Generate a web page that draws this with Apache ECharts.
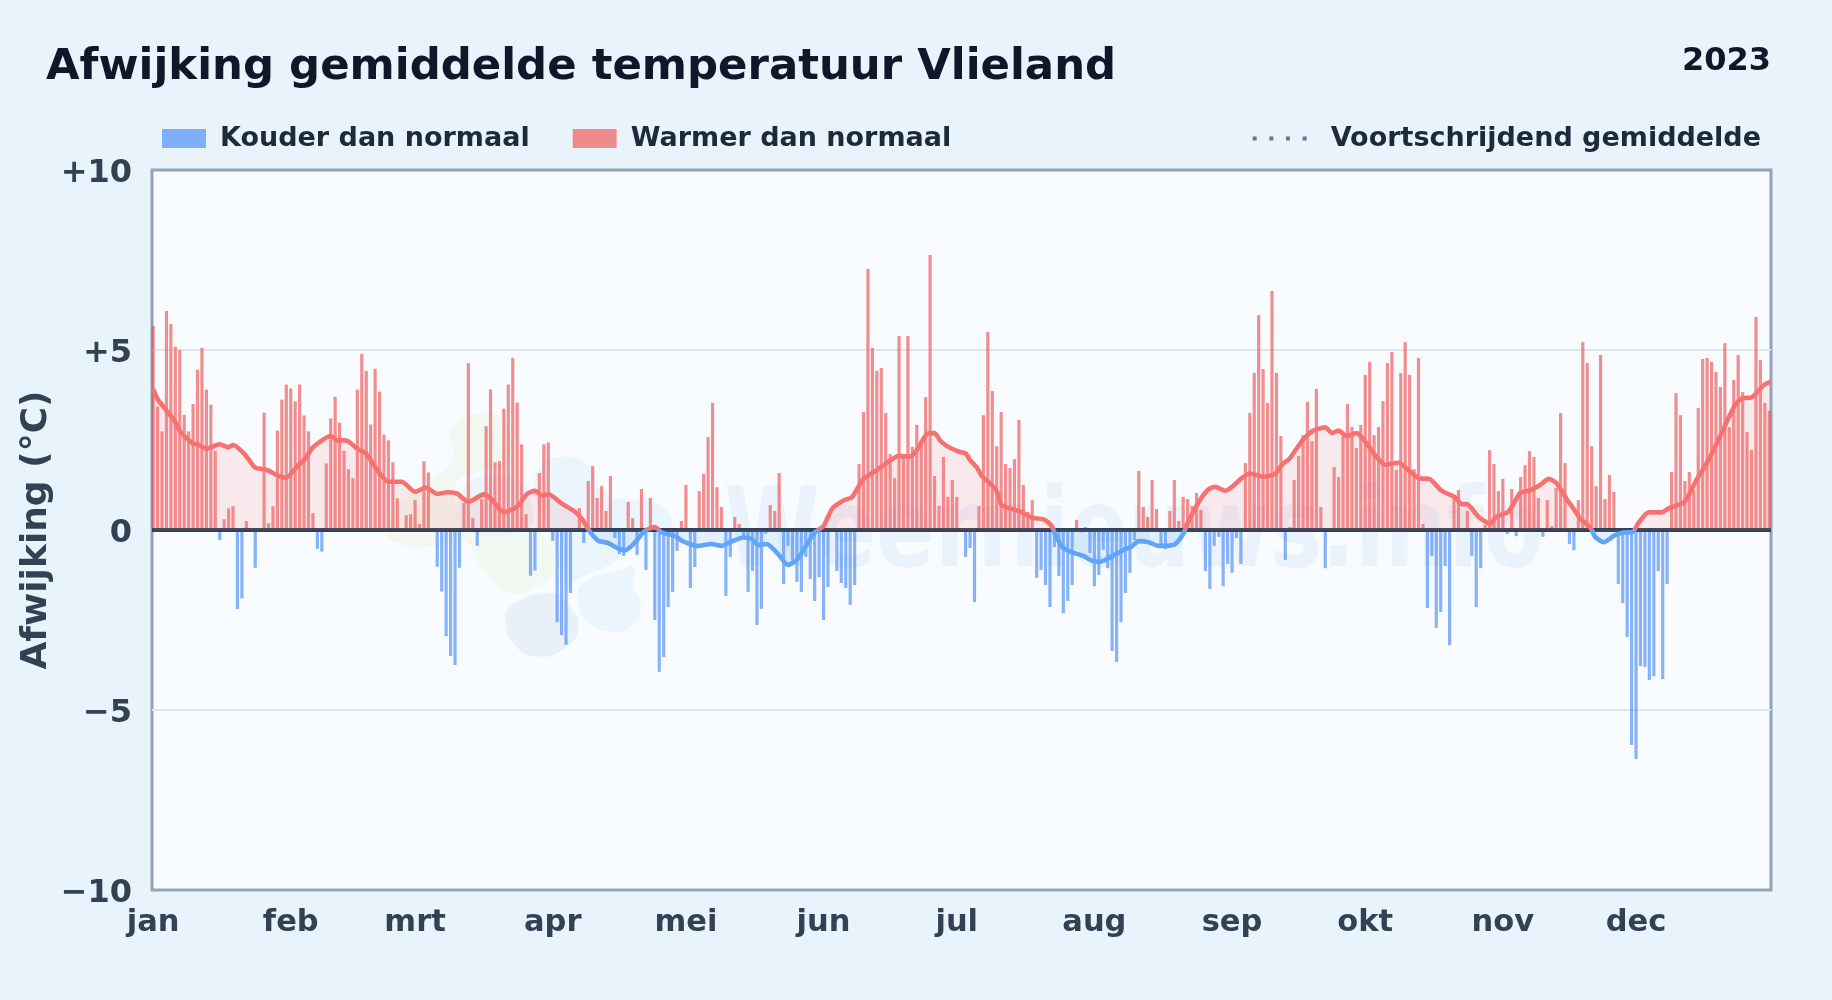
<!DOCTYPE html>
<html><head><meta charset="utf-8">
<style>html,body{margin:0;padding:0;background:#e8f3fc}#c{width:1832px;height:1000px}</style>
<script src="https://cdn.jsdelivr.net/npm/echarts@6/dist/echarts.min.js"></script>
</head><body><div id="c"></div>
<script>
const monthLabels=['jan','feb','mrt','apr','mei','jun','jul','aug','sep','okt','nov','dec'];
const monthStarts=[0,31,59,90,120,151,181,212,243,273,304,334];
const dayValues=[
5.67,3.43,2.74,6.08,5.72,5.09,5.0,3.2,2.74,3.5,
4.45,5.06,3.9,3.48,2.2,-0.28,0.3,0.6,0.66,-2.2,
-1.9,0.25,0,-1.05,0.05,3.26,0.19,0.66,2.76,3.62,
4.04,3.93,3.57,4.04,3.18,2.74,0.47,-0.52,-0.6,1.85,
3.1,3.7,2.98,2.2,1.69,1.44,3.9,4.89,4.42,2.93,
4.48,3.84,2.65,2.49,1.88,0.88,0,0.41,0.44,0.83,
0.17,1.91,1.6,0,-1.02,-1.71,-2.95,-3.5,-3.75,-1.05,
0.75,4.64,0.33,-0.44,0.86,2.88,3.9,1.88,1.91,3.37,
4.04,4.78,3.54,2.38,0.44,-1.27,-1.13,1.58,2.38,2.43,
-0.3,-2.56,-2.92,-3.19,-1.75,0,0.61,-0.36,1.36,1.78,
0.89,1.22,0.53,1.5,-0.22,-0.67,-0.72,0.78,0.33,-0.69,
1.14,-1.11,0.89,-2.5,-3.94,-3.53,-2.14,-1.72,-0.58,0.25,
1.25,-1.61,-1.03,1.08,1.56,2.58,3.53,1.19,0.64,-1.83,
-0.75,0.36,0.17,-0.2,-1.72,-1.14,-2.64,-2.19,-0.1,0.69,
0.53,1.58,-1.5,-0.44,-0.85,-1.44,-1.72,-0.75,-1.36,-1.97,
-1.31,-2.5,-1.58,0,-1.14,-1.47,-1.61,-2.08,-1.53,1.83,
3.28,7.25,5.06,4.42,4.5,3.25,2.11,1.44,5.39,2.0,
5.39,2.31,2.92,2.5,3.69,7.64,1.5,0.67,2.03,0.92,
1.39,0.92,0,-0.75,-0.5,-2.0,0.67,3.19,5.5,3.86,
2.33,3.28,1.83,1.72,1.97,3.06,1.25,0.5,0.83,-1.33,
-1.11,-1.53,-2.14,-0.47,-1.28,-2.31,-1.97,-1.53,0.28,-0.07,
0.08,-0.64,-1.56,-1.25,-0.55,-1.06,-3.36,-3.67,-2.56,-1.75,
-1.19,-0.28,1.64,0.64,0.36,1.39,0.58,-0.42,-0.53,0.53,
1.39,0.25,0.92,0.86,0.67,1.03,0.56,-1.14,-1.64,-0.44,
-0.19,-1.56,-0.94,-1.19,-0.22,-0.94,1.86,3.25,4.36,5.97,
4.47,3.53,6.64,4.36,2.61,-0.83,0.08,1.39,2.06,2.64,
3.56,2.47,3.92,0.64,-1.06,0,1.75,1.47,2.61,3.5,
2.86,2.28,2.92,4.31,4.67,2.64,2.86,3.58,4.64,4.94,
1.67,4.36,5.22,4.31,1.69,4.78,0.17,-2.17,-0.72,-2.72,
-2.28,-1.0,-3.2,0.94,1.11,0,0.53,-0.72,-2.14,-1.06,
0.14,2.22,1.83,1.08,1.42,-0.11,1.14,-0.17,1.47,1.8,
2.19,2.03,0.89,-0.19,0.83,0.11,1.17,3.25,1.86,-0.39,
-0.56,0.83,5.22,4.64,2.33,1.22,4.86,0.86,1.53,1.06,
-1.5,-2.03,-2.97,-5.97,-6.36,-3.78,-3.8,-4.17,-4.06,-1.14,
-4.14,-1.5,1.61,3.8,3.19,1.36,1.61,1.1,3.39,4.75,
4.78,4.67,4.39,3.97,5.19,2.86,4.17,4.86,3.83,2.72,
2.22,5.92,4.72,3.53,3.31];
const maDays=[0,1,3,5,6.2,7.7,9,10,12,15,17,18,20.5,23,25.4,28,30,32.5,34,36,40,41.5,43.4,46,48,50.5,53,56,59,61.4,64,66.3,68.5,71,74.5,76,79,82,84.3,86,87.7,89,92,95,96.5,98.4,100.3,102.6,104.8,106.3,108.2,110.8,113,114.6,117.6,119.4,122.5,125.8,128,130.3,132.9,134.8,136.3,138.2,140.5,143,145,149,151,153,155.7,157.4,159.6,160.4,163.8,168,170.5,172,174.3,176,177.3,178.8,181.4,183,184,185.5,186.6,189.3,190.4,191.1,193.8,195.7,197.9,200.5,201.7,202.6,203.2,204.7,206.5,209.5,211.4,213.3,215.5,218.2,220.4,221.9,224.2,226.4,228.3,230.2,232.1,232.8,234.3,236.2,237.7,239.2,241.4,243,245.2,247,250,252.7,254.2,256,259.1,261.3,264,265.5,267,268.8,271.1,273.3,275.2,277.5,280.5,283.1,285,287.6,290.2,293.2,294.7,295.9,298.5,301.1,302.6,305.3,307.9,310.2,312.4,314.3,316.1,318.4,319.6,321.4,323.7,324.8,326.7,329.3,331.2,333.3,334.5,336.8,339.8,341.3,345,347.6,349.9,352.2,354.1,356.3,357.8,360,362.8,364.39];
const maValues=[3.92,3.64,3.32,3.0,2.72,2.53,2.40,2.38,2.26,2.38,2.30,2.36,2.12,1.73,1.68,1.52,1.45,1.78,1.94,2.30,2.61,2.49,2.49,2.26,2.12,1.66,1.34,1.34,1.06,1.18,1.0,1.05,1.01,0.78,0.99,0.88,0.49,0.65,1.01,1.09,0.95,1.0,0.74,0.51,0.32,-0.05,-0.3,-0.37,-0.52,-0.56,-0.39,-0.02,0.08,-0.07,-0.17,-0.32,-0.44,-0.39,-0.44,-0.32,-0.21,-0.25,-0.42,-0.39,-0.63,-0.97,-0.83,-0.07,0.11,0.6,0.83,0.91,1.36,1.46,1.73,2.06,2.04,2.22,2.67,2.69,2.48,2.33,2.18,2.13,1.94,1.74,1.51,1.2,0.97,0.69,0.57,0.49,0.34,0.3,0.2,0.06,-0.14,-0.46,-0.6,-0.72,-0.85,-0.88,-0.76,-0.58,-0.46,-0.31,-0.34,-0.44,-0.44,-0.39,-0.09,0.14,0.51,0.91,1.13,1.2,1.09,1.2,1.44,1.57,1.48,1.56,1.81,1.99,2.53,2.76,2.85,2.69,2.76,2.61,2.69,2.41,2.08,1.81,1.87,1.62,1.44,1.41,1.09,0.91,0.72,0.72,0.37,0.17,0.37,0.51,1.03,1.11,1.25,1.42,1.3,0.85,0.65,0.32,0.07,-0.19,-0.34,-0.14,-0.07,-0.05,0.19,0.49,0.49,0.6,0.79,1.39,1.85,2.41,2.92,3.47,3.66,3.68,4.03,4.12];
const yTicks={min:-10,max:10,step:5};
const FONT='"DejaVu Sans"';
const warm=dayValues.map((v,i)=>[i,v]).filter(d=>d[1]>0);
const cold=dayValues.map((v,i)=>[i,v]).filter(d=>d[1]<0);
const ma=maDays.map((d,i)=>[d,maValues[i]]);
const blob=(pts,fill,op)=>({type:'polygon',z:1,silent:true,shape:{points:pts.map(p=>[370+p[0]/3,400+p[1]/3]),smooth:0.5},style:{fill:fill,opacity:op}});
const chart=echarts.init(document.getElementById('c'),null,{renderer:'canvas'});
chart.setOption({
 animation:false,
 backgroundColor:'#e8f3fc',
 textStyle:{fontFamily:FONT},
 title:[
  {text:'Afwijking gemiddelde temperatuur Vlieland',left:41,top:41,textStyle:{fontFamily:FONT,fontSize:43.4,fontWeight:'bold',color:'#0f172a'}},
  {text:'2023',right:56,top:41,textStyle:{fontFamily:FONT,fontSize:32,fontWeight:'bold',color:'#0f172a'}}
 ],
 legend:[
  {left:162,top:125,padding:0,itemWidth:44,itemHeight:19,itemGap:43,selectedMode:false,icon:'rect',data:['Kouder dan normaal','Warmer dan normaal'],textStyle:{fontFamily:FONT,fontSize:27,fontWeight:'bold',color:'#1e293b',padding:[0,0,0,9]}},
  {right:71,top:125,padding:0,itemWidth:54,itemHeight:4,selectedMode:false,data:[{name:'Voortschrijdend gemiddelde',icon:'path://M0 0h4v4h-4zM16.7 0h4v4h-4zM33.3 0h4v4h-4zM50 0h4v4h-4z',itemStyle:{color:'#64748b',opacity:1}}],textStyle:{fontFamily:FONT,fontSize:27,fontWeight:'bold',color:'#1e293b',padding:[0,0,0,19]}}
 ],
 grid:{left:152,top:170,width:1619,height:720,show:true,backgroundColor:'#f8fbff',borderColor:'#94a3b8',borderWidth:3,containLabel:false},
 xAxis:{type:'value',min:-0.25,max:364.39,
  axisLine:{show:false},axisTick:{show:false},splitLine:{show:false},
  axisLabel:{customValues:monthStarts,margin:18,fontFamily:FONT,fontSize:30.5,fontWeight:'bold',color:'#334155',formatter:v=>monthLabels[monthStarts.indexOf(v)]||''}},
 yAxis:{type:'value',min:yTicks.min,max:yTicks.max,interval:yTicks.step,
  name:'Afwijking (°C)',nameLocation:'middle',nameGap:97,nameMoveOverlap:false,nameRotate:90,nameTextStyle:{fontFamily:FONT,fontSize:36,fontWeight:'bold',color:'#334155'},
  axisLine:{show:false},axisTick:{show:false},
  splitLine:{showMinLine:false,showMaxLine:false,lineStyle:{color:'#dfe6ea',width:2}},
  axisLabel:{margin:20,formatter:v=>'{a|'+(v>0?'+'+v:(v<0?'\u2212'+Math.abs(v):'0'))+'}',rich:{a:{fontFamily:FONT,fontSize:32,fontWeight:'bold',color:'#334155',padding:[7,0,0,0]}}}},
 visualMap:{show:false,type:'piecewise',seriesIndex:2,dimension:1,pieces:[{min:-20,max:0,color:'#60a5fa'},{min:0,max:20,color:'#f87171'}]},
 graphic:[
  blob([[240,100],[310,45],[400,60],[410,190],[320,215],[260,250],[260,330],[280,400],[170,440],[60,420],[50,390],[100,300],[200,230],[250,170]],'#eef7e8',0.6),
  blob([[280,395],[500,395],[555,500],[500,560],[420,580],[350,520],[300,440]],'#eef7ea',0.6),
  blob([[510,200],[590,170],[660,200],[700,280],[790,300],[880,320],[900,390],[800,420],[740,480],[620,540],[590,560],[540,400],[500,300]],'#e6f2fc',0.7),
  blob([[280,270],[340,230],[440,240],[480,290],[470,385],[280,385]],'#e6eff8',0.6),
  blob([[420,620],[540,580],[600,620],[625,680],[590,740],[500,770],[430,730],[408,670]],'#e6eff8',0.9),
  blob([[640,550],[750,510],[790,500],[790,560],[812,620],[780,680],[720,695],[650,660],[625,600]],'#e8f4fd',0.9),
  {type:'text',z:1,silent:true,left:724,top:482,scaleX:0.79,style:{text:'Weernieuws.info',font:'bold 110px "DejaVu Sans"',fill:'#3b7fd0',opacity:0.07}}
 ],
 series:[
  {name:'Kouder dan normaal',type:'bar',z:3,barWidth:3.2,barGap:'-100%',data:cold,itemStyle:{color:'#3b82f6',opacity:0.6}},
  {name:'Warmer dan normaal',type:'bar',z:3,barWidth:3.2,barGap:'-100%',data:warm,itemStyle:{color:'#ef4444',opacity:0.6}},
  {name:'Voortschrijdend gemiddelde',type:'line',z:5,data:ma,showSymbol:false,symbol:'none',smooth:0.2,lineStyle:{width:4.6},areaStyle:{origin:0,opacity:0.13},
   markLine:{silent:true,symbol:'none',label:{show:false},lineStyle:{color:'#334155',width:4.2,type:'solid'},data:[{yAxis:0}]}}
 ]
});
</script></body></html>
